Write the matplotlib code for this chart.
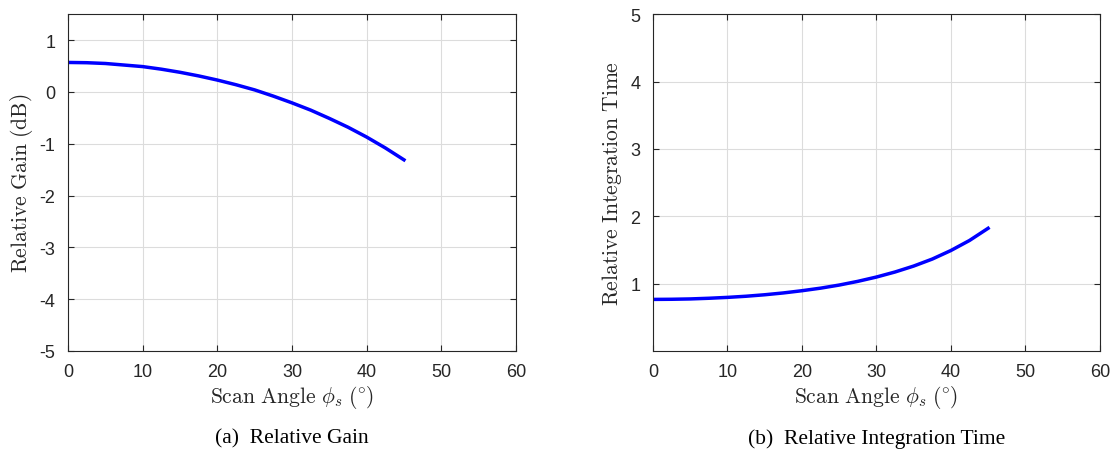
import matplotlib
matplotlib.use("Agg")
import matplotlib.pyplot as plt

plt.rcParams['font.family'] = ['Liberation Sans', 'DejaVu Sans']
plt.rcParams['mathtext.fontset'] = 'cm'
plt.rcParams['axes.unicode_minus'] = False

# scan angle (deg)
angle = [0, 2.5, 5, 7.5, 10, 12.5, 15, 17.5, 20, 22.5, 25, 27.5, 30,
         32.5, 35, 37.5, 40, 42.5, 45]
# relative gain (dB)
gain_db = [0.57, 0.565, 0.55, 0.52, 0.49, 0.44, 0.38, 0.31, 0.23, 0.14, 0.04,
           -0.08, -0.21, -0.35, -0.51, -0.68, -0.87, -1.08, -1.31]
# relative integration time
int_time = [0.766, 0.768, 0.773, 0.783, 0.796, 0.813, 0.835, 0.862, 0.895,
            0.933, 0.979, 1.034, 1.098, 1.173, 1.261, 1.365, 1.492, 1.641, 1.822]

xticks = [0, 10, 20, 30, 40, 50, 60]
yticks_gain = [-5, -4, -3, -2, -1, 0, 1]
yticks_time = [1, 2, 3, 4, 5]

fig = plt.figure(figsize=(11.17, 4.6), dpi=100)
ax1 = fig.add_axes([0.0609, 0.2348, 0.401, 0.732])
ax2 = fig.add_axes([0.5846, 0.2348, 0.400, 0.732])

axcol = '#262626'
xlab = r'$\mathrm{Scan\ Angle}\ \phi_s\ (\!^\circ\!)$'
for ax in (ax1, ax2):
    ax.grid(True, color='#dcdcdc', lw=0.8)
    ax.set_axisbelow(True)
    ax.tick_params(direction='in', top=True, right=True, length=4,
                   labelsize=13, colors=axcol, width=0.8, pad=9)
    for s in ax.spines.values():
        s.set_color(axcol)
        s.set_linewidth(0.8)
    ax.set_xlim(0, 60)
    ax.set_xticks(xticks)
    ax.set_xlabel(xlab, fontsize=15.5, color=axcol, labelpad=2)

ax1.plot(angle, gain_db, color='#0000ff', lw=2.5)
ax1.set_ylim(-5, 1.5)
ax1.set_yticks(yticks_gain)
ax1.set_ylabel(r'$\mathrm{Relative\ Gain\ (dB)}$', fontsize=15.5, color=axcol,
               labelpad=3)

ax2.plot(angle, int_time, color='#0000ff', lw=2.5)
ax2.set_ylim(0, 5)
ax2.set_yticks(yticks_time)
ax2.set_ylabel(r'$\mathrm{Relative\ Integration\ Time}$', fontsize=15.5,
               color=axcol, labelpad=5)

fig.text(0.2614, 0.046, '(a)  Relative Gain', ha='center', va='center',
         fontsize=15.5, family='Liberation Serif')
fig.text(0.7846, 0.046, '(b)  Relative Integration Time', ha='center',
         va='center', fontsize=15.5, family='Liberation Serif')

fig.savefig('out.png', dpi=100)
